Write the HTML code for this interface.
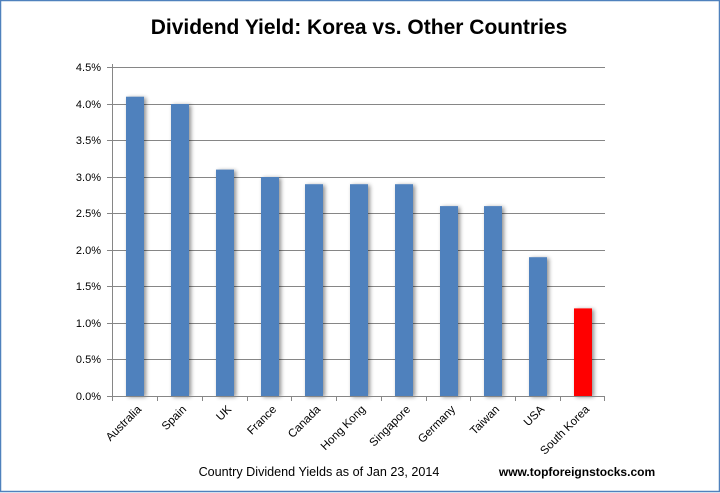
<!DOCTYPE html>
<html><head><meta charset="utf-8"><style>
html,body{margin:0;padding:0;background:#fff}
svg{display:block}
</style></head><body>
<svg width="720" height="493" xmlns="http://www.w3.org/2000/svg" font-family="Liberation Sans, sans-serif">
<rect x="0.5" y="0.5" width="719" height="491" fill="#fff" stroke="#4f81bd" stroke-width="1.5"/>
<defs><filter id="sh" x="-50%" y="-10%" width="200%" height="120%"><feGaussianBlur in="SourceAlpha" stdDeviation="2"/><feOffset dx="2" dy="1"/><feComponentTransfer><feFuncA type="linear" slope="0.45"/></feComponentTransfer><feMerge><feMergeNode/><feMergeNode in="SourceGraphic"/></feMerge></filter></defs>
<text x="359" y="34" text-anchor="middle" font-size="21" font-weight="bold" fill="#000">Dividend Yield: Korea vs. Other Countries</text>
<g stroke="#868686" stroke-width="1">
<line x1="112" y1="67.5" x2="605" y2="67.5"/>
<line x1="112" y1="104.5" x2="605" y2="104.5"/>
<line x1="112" y1="140.5" x2="605" y2="140.5"/>
<line x1="112" y1="177.5" x2="605" y2="177.5"/>
<line x1="112" y1="213.5" x2="605" y2="213.5"/>
<line x1="112" y1="250.5" x2="605" y2="250.5"/>
<line x1="112" y1="286.5" x2="605" y2="286.5"/>
<line x1="112" y1="323.5" x2="605" y2="323.5"/>
<line x1="112" y1="359.5" x2="605" y2="359.5"/>
</g>
<g font-size="11" fill="#000" text-anchor="end">
<text x="101" y="71">4.5%</text><text x="101" y="108">4.0%</text><text x="101" y="144">3.5%</text>
<text x="101" y="181">3.0%</text><text x="101" y="217">2.5%</text><text x="101" y="254">2.0%</text>
<text x="101" y="290">1.5%</text><text x="101" y="327">1.0%</text><text x="101" y="363">0.5%</text>
<text x="101" y="400">0.0%</text>
</g>
<g filter="url(#sh)" fill="#4f81bd">
<rect x="126" y="96.7" width="18" height="299.3"/>
<rect x="171" y="104" width="18" height="292"/>
<rect x="216" y="169.6" width="18" height="226.4"/>
<rect x="261" y="177" width="18" height="219"/>
<rect x="305" y="184.2" width="18" height="211.8"/>
<rect x="350" y="184.2" width="18" height="211.8"/>
<rect x="395" y="184.2" width="18" height="211.8"/>
<rect x="440" y="206.1" width="18" height="189.9"/>
<rect x="484" y="206.1" width="18" height="189.9"/>
<rect x="529" y="257.2" width="18" height="138.8"/>
<rect x="574" y="308.4" width="18" height="87.6" fill="#ff0000"/>
</g>
<g stroke="#868686" stroke-width="1">
<line x1="112.5" y1="64" x2="112.5" y2="401"/>
<line x1="107" y1="67.5" x2="112" y2="67.5"/><line x1="107" y1="104.5" x2="112" y2="104.5"/><line x1="107" y1="140.5" x2="112" y2="140.5"/><line x1="107" y1="177.5" x2="112" y2="177.5"/><line x1="107" y1="213.5" x2="112" y2="213.5"/><line x1="107" y1="250.5" x2="112" y2="250.5"/><line x1="107" y1="286.5" x2="112" y2="286.5"/><line x1="107" y1="323.5" x2="112" y2="323.5"/><line x1="107" y1="359.5" x2="112" y2="359.5"/><line x1="107" y1="396.5" x2="112" y2="396.5"/>
<line x1="112" y1="396.5" x2="605" y2="396.5"/>
<line x1="157.5" y1="396" x2="157.5" y2="401"/><line x1="202.5" y1="396" x2="202.5" y2="401"/><line x1="247.5" y1="396" x2="247.5" y2="401"/><line x1="291.5" y1="396" x2="291.5" y2="401"/><line x1="336.5" y1="396" x2="336.5" y2="401"/><line x1="381.5" y1="396" x2="381.5" y2="401"/><line x1="426.5" y1="396" x2="426.5" y2="401"/><line x1="470.5" y1="396" x2="470.5" y2="401"/><line x1="515.5" y1="396" x2="515.5" y2="401"/><line x1="560.5" y1="396" x2="560.5" y2="401"/><line x1="604.5" y1="396" x2="604.5" y2="401"/>
</g>
<g font-size="11.5" fill="#000" text-anchor="end">
<text transform="translate(142,410) rotate(-45)">Australia</text>
<text transform="translate(187,410) rotate(-45)">Spain</text>
<text transform="translate(232,410) rotate(-45)">UK</text>
<text transform="translate(277,410) rotate(-45)">France</text>
<text transform="translate(321,410) rotate(-45)">Canada</text>
<text transform="translate(366,410) rotate(-45)">Hong Kong</text>
<text transform="translate(411,410) rotate(-45)">Singapore</text>
<text transform="translate(456,410) rotate(-45)">Germany</text>
<text transform="translate(500,410) rotate(-45)">Taiwan</text>
<text transform="translate(545,410) rotate(-45)">USA</text>
<text transform="translate(590,410) rotate(-45)">South Korea</text>
</g>
<text x="319" y="476" text-anchor="middle" font-size="12.6" fill="#000">Country Dividend Yields as of Jan 23, 2014</text>
<text x="577" y="476" text-anchor="middle" font-size="12" font-weight="bold" fill="#000">www.topforeignstocks.com</text>
</svg>
</body></html>
